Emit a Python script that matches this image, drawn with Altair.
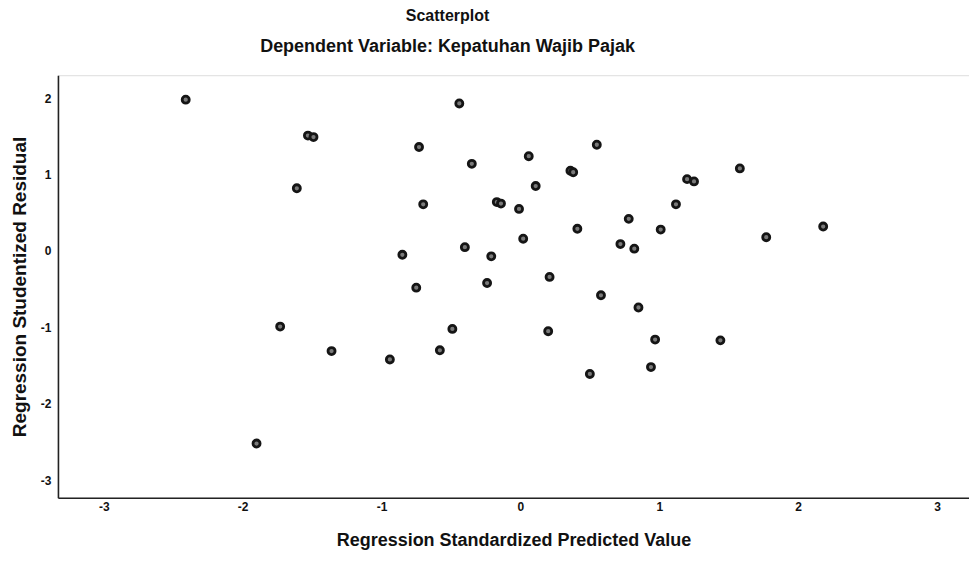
import altair as alt
import pandas as pd

predicted = [-2.41, -1.53, -1.49, -1.61, -0.73, -0.44, -0.35, -0.70, -0.17, -0.14,
             -0.85, -0.40, -0.21, -0.75, -0.24, 0.55, 0.06, 0.36, 0.38, 0.11,
             -0.01, 1.58, 1.20, 1.25, 1.12, 0.78, 0.41, 1.01, 2.18, 1.77,
             0.02, 0.72, 0.82, 0.21, 0.58, 0.85, -0.49, 0.20, 0.97, 1.44,
             0.94, 0.50, -1.73, -1.36, -0.94, -0.58, -1.90]
residual = [1.98, 1.51, 1.49, 0.82, 1.36, 1.93, 1.14, 0.61, 0.64, 0.62,
            -0.05, 0.05, -0.07, -0.48, -0.42, 1.39, 1.24, 1.05, 1.03, 0.85,
            0.55, 1.08, 0.94, 0.91, 0.61, 0.42, 0.29, 0.28, 0.32, 0.18,
            0.16, 0.09, 0.03, -0.34, -0.58, -0.74, -1.02, -1.05, -1.16, -1.17,
            -1.52, -1.61, -0.99, -1.31, -1.42, -1.30, -2.52]
x_ticks = [-3, -2, -1, 0, 1, 2, 3]
y_ticks = [-3, -2, -1, 0, 1, 2]

df = pd.DataFrame({"pred": predicted, "resid": residual})

font = "Liberation Sans"

chart = alt.Chart(df).mark_point(
    shape="circle", filled=False, fill="#7a7a7a", stroke="#151515",
    strokeWidth=2.8, size=50, opacity=1, fillOpacity=1
).encode(
    x=alt.X("pred:Q", title="Regression Standardized Predicted Value",
            scale=alt.Scale(domain=[-3.33, 3.23], nice=False, zero=False),
            axis=alt.Axis(values=x_ticks, ticks=False, grid=False, labelPadding=4,
                          titlePadding=19, labelFontSize=12, titleFontSize=18,
                          labelExpr="'' + datum.value",
                          labelFontWeight="bold", titleFontWeight="bold",
                          labelFont=font, titleFont=font, domainColor="#222",
                          domainWidth=1.6, labelColor="#111", titleColor="#111")),
    y=alt.Y("resid:Q", title="Regression Studentized Residual",
            scale=alt.Scale(domain=[-3.23, 2.30], nice=False, zero=False),
            axis=alt.Axis(values=y_ticks, ticks=False, grid=False, labelPadding=7,
                          titlePadding=11, labelFontSize=12, titleFontSize=19,
                          labelExpr="'' + datum.value",
                          labelFontWeight="bold", titleFontWeight="bold",
                          labelFont=font, titleFont=font, domainColor="#222",
                          domainWidth=1.6, labelColor="#111", titleColor="#111")),
).properties(
    width=912, height=423,
    autosize=alt.AutoSizeParams(type="none"),
    padding={"left": 50, "top": 67, "right": 0, "bottom": 55},
    title=alt.TitleParams(
        text="Scatterplot",
        subtitle="Dependent Variable: Kepatuhan Wajib Pajak",
        anchor="middle", dx=-66, offset=19, subtitlePadding=14,
        font=font, fontSize=16, fontWeight="bold", color="#111",
        subtitleFont=font, subtitleFontSize=18, subtitleFontWeight="bold",
        subtitleColor="#111"),
).configure_view(stroke=None).configure(background="white")

chart.save("out.html", embed_options={"renderer": "svg", "actions": False})
